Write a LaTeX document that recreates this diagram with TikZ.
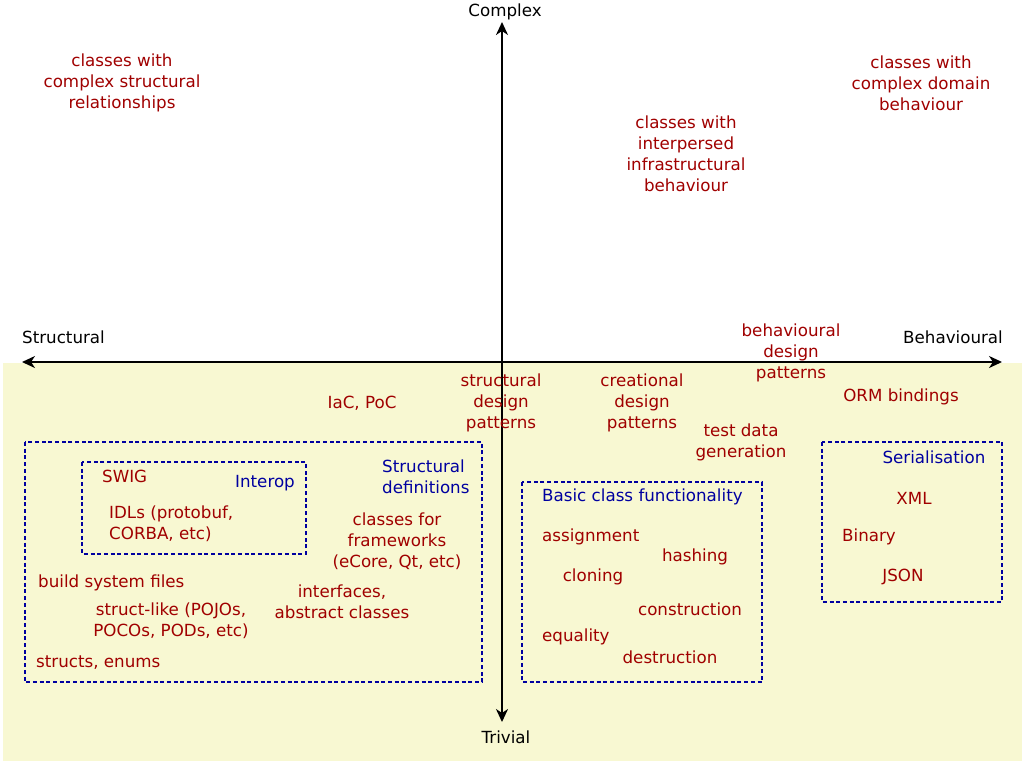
\documentclass[tikz,border=0pt]{standalone}
\usepackage{fontspec}
\setmainfont{DejaVu Sans}
\usetikzlibrary{arrows.meta}
\definecolor{bgyel}{RGB}{248,248,210}
\definecolor{dred}{RGB}{160,0,0}
\definecolor{dblue}{RGB}{0,0,160}
\tikzset{
  lbl/.style={font=\fontsize{16.7}{21}\selectfont, text=black, inner sep=0pt, align=center, yshift=-0.8pt},
  item/.style={font=\fontsize{16.7}{21}\selectfont, text=dred, inner sep=0pt, align=center, yshift=-0.8pt},
  grp/.style={font=\fontsize{16.7}{21}\selectfont, text=dblue, inner sep=0pt, align=left, yshift=-0.8pt},
  dbox/.style={draw=dblue, line width=1.8pt, dash pattern=on 4pt off 2.7pt},
  axis/.style={line width=2pt, {Stealth[length=13pt,width=12pt,inset=4pt]}-{Stealth[length=13pt,width=12pt,inset=4pt]}}
}
\begin{document}
\begin{tikzpicture}[x=1pt,y=-1pt]
\useasboundingbox (0,0) rectangle (1024,764);
\fill[bgyel] (3,363) rectangle (1022,761);
% dashed boxes
\draw[dbox] (25,442) rectangle (482,682);
\draw[dbox] (82,462) rectangle (306,554);
\draw[dbox] (522,482) rectangle (762,682);
\draw[dbox] (822,442) rectangle (1002,602);
% axes
\coordinate (L) at (22,362);
\coordinate (R) at (1002,362);
\coordinate (T) at (502,22);
\coordinate (B) at (502,722);
\draw[axis] (L) -- (R);
\draw[axis] (T) -- (B);
% axis labels
\node[lbl] (complex) at (505,11) {Complex};
\node[lbl] (trivial) at (506,736) {Trivial};
\node[lbl, anchor=west] (structural) at (22,336) {Structural};
\node[lbl, anchor=east] (behavioural) at (1003,336) {Behavioural};
% upper quadrants
\node[item] (csr) at (122,82) {classes with\\complex structural\\relationships};
\node[item] (cdb) at (921,82) {classes with\\complex domain\\behaviour};
\node[item] (cib) at (686,152.5) {classes with\\interpersed\\infrastructural\\behaviour};
\node[item] (bdp) at (791,352) {behavioural\\design\\patterns};
% lower area
\node[item] (iac) at (362,402) {IaC, PoC};
\node[item] (sdp) at (501,402) {structural\\design\\patterns};
\node[item] (cdp) at (642,402) {creational\\design\\patterns};
\node[item] (tdg) at (741,442) {test data\\generation};
\node[item] (orm) at (901,396) {ORM bindings};
% serialisation
\node[grp] (ser) at (934,456) {Serialisation};
\node[item] (xml) at (914,498) {XML};
\node[item] (bin) at (869,536) {Binary};
\node[item] (json) at (903,576) {JSON};
% basic class functionality
\node[grp, anchor=west] (bcf) at (542,496) {Basic class functionality};
\node[item, anchor=west] (asg) at (542,536) {assignment};
\node[item] (hash) at (695,556) {hashing};
\node[item] (clon) at (593,576) {cloning};
\node[item] (cons) at (690,608) {construction};
\node[item, anchor=west] (eq) at (542,636) {equality};
\node[item] (dest) at (670,656) {destruction};
% structural definitions
\node[item, anchor=west] (swig) at (102,476) {SWIG};
\node[grp] (interop) at (265,482) {Interop};
\node[item, anchor=west, align=left] (idl) at (109,522.5) {IDLs (protobuf,\\CORBA, etc)};
\node[grp, anchor=west] (sdef) at (382,475.5) {Structural\\definitions};
\node[item] (cff) at (397,540) {classes for\\frameworks\\(eCore, Qt, etc)};
\node[item, anchor=west] (bsf) at (38,582) {build system files};
\node[item] (iface) at (342,601) {interfaces,\\abstract classes};
\node[item] (slike) at (171,620) {struct-like (POJOs,\\POCOs, PODs, etc)};
\node[item, anchor=west] (senum) at (36,662) {structs, enums};
\end{tikzpicture}
\end{document}
